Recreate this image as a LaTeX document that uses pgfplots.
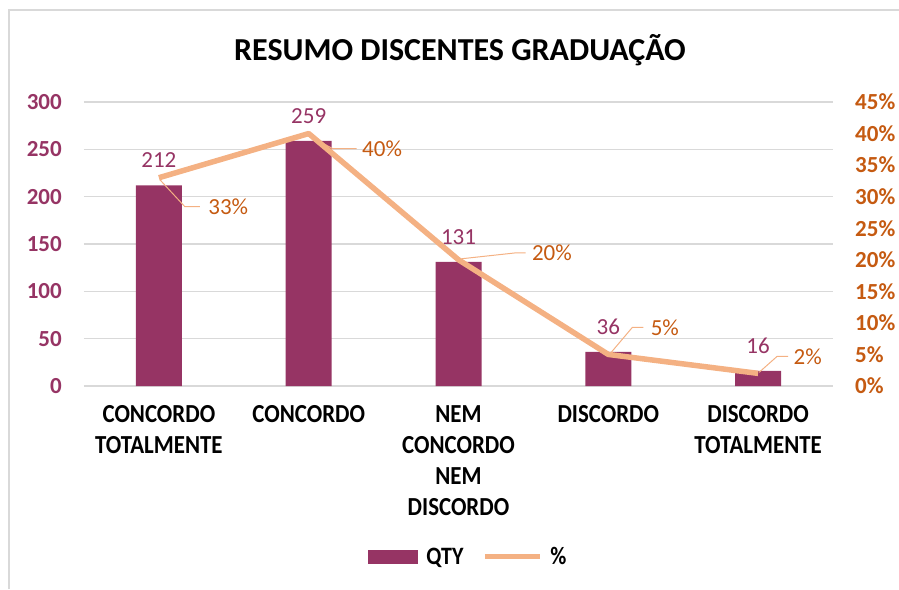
\documentclass[border=0pt]{standalone}
\usepackage{pgfplots}
\pgfplotsset{compat=1.18}
\usepackage{fontspec}
\setmainfont{Carlito}
\newfontfamily\condfont[FakeStretch=0.88]{Carlito}
\definecolor{barc}{HTML}{963464}
\definecolor{linec}{HTML}{F4B183}
\definecolor{orlab}{HTML}{C55A11}
\definecolor{gridc}{HTML}{D9D9D9}
\newcommand{\tickfont}{\fontsize{23}{28}\selectfont\bfseries}
\newcommand{\lblfont}{\fontsize{23}{28}\selectfont}
\newcommand{\catfont}{\condfont\fontsize{26}{31}\selectfont\bfseries}
\newcommand{\legfont}{\condfont\fontsize{25}{30}\selectfont\bfseries}
\begin{document}
\begin{tikzpicture}[x=1pt,y=1pt]
\path[use as bounding box] (0,0) rectangle (899,589);
\draw[gridc, line width=1.5pt] (9,0) -- (9,579) -- (899,579);
\node[font=\fontsize{32}{37}\selectfont\bfseries] at (460,539) {RESUMO DISCENTES GRADUAÇÃO};
\begin{axis}[
  at={(84pt,203pt)}, anchor=south west, scale only axis,
  width=749pt, height=284pt,
  xmin=-0.5, xmax=4.5, ymin=0, ymax=300,
  xtick={0,1,2,3,4},
  xticklabels={{CONCORDO\\TOTALMENTE},{CONCORDO},{NEM\\CONCORDO\\NEM\\DISCORDO},{DISCORDO},{DISCORDO\\TOTALMENTE}},
  ytick={0,50,...,300},
  ymajorgrids, grid style={gridc, line width=1.2pt},
  axis line style={draw=none}, major tick length=0pt,
  /pgf/number format/assume math mode=true,
  yticklabel style={font=\tickfont, text=barc, inner sep=0pt, xshift=-22pt},
  xticklabel style={font=\catfont, align=center, inner sep=0pt, anchor=north, yshift=-19pt},
  legend style={at={(0.512,-0.602)}, anchor=center, legend columns=2, draw=none, fill=none,
    font=\legfont, inner sep=0pt,
    nodes={inner sep=0pt},
    /tikz/every odd column/.append style={column sep=8pt},
    /tikz/every even column/.append style={column sep=19pt}},
]
\addplot[ybar, bar width=46pt, fill=barc, draw=none,
  nodes near coords,
  every node near coord/.append style={font=\lblfont, text=barc, anchor=center, yshift=25pt},
  legend image code/.code={\fill[barc] (0pt,-7pt) rectangle (50pt,7pt);}]
  coordinates {(0,212) (1,259) (2,131) (3,36) (4,16)};
\addlegendentry{QTY}
\addlegendimage{legend image code/.code={\draw[linec, line width=5pt] (0pt,0pt) -- (55pt,0pt);}}
\addlegendentry{\%}
\end{axis}
\begin{axis}[
  at={(84pt,203pt)}, anchor=south west, scale only axis,
  width=749pt, height=284pt,
  xmin=-0.5, xmax=4.5, ymin=0, ymax=45,
  axis y line*=right, axis x line=none,
  axis line style={draw=none}, major tick length=0pt,
  ytick={0,5,...,45},
  yticklabel={\pgfmathprintnumber{\tick}\%},
  /pgf/number format/assume math mode=true,
  yticklabel style={font=\tickfont, text=orlab, inner sep=0pt, xshift=22pt},
]
\addplot[linec, line width=5.5pt, line join=round, mark=none]
  coordinates {(0,33) (1,40) (2,20) (3,5) (4,2)};
\begin{scope}[every node/.style={font=\lblfont, text=orlab, inner sep=0pt, anchor=west}]
\draw[linec, line width=1pt] (axis cs:0,33) ++(1pt,-2pt) -- ++(25pt,-27pt) -- ++(15pt,0pt) ++(8pt,0pt) node {33\%};
\draw[linec, line width=1pt] (axis cs:1,40) ++(3pt,-4pt) -- ++(21pt,-11pt) -- ++(24pt,0pt) ++(5pt,0pt) node {40\%};
\draw[linec, line width=1pt] (axis cs:2,20) ++(3pt,1pt) -- ++(55pt,6pt) -- ++(9pt,0pt) ++(6pt,0pt) node {20\%};
\draw[linec, line width=1pt] (axis cs:3,5) ++(2pt,1pt) -- ++(22pt,26pt) -- ++(11pt,0pt) ++(7pt,0pt) node {5\%};
\draw[linec, line width=1pt] (axis cs:4,2) ++(1pt,1pt) -- ++(18pt,16pt) -- ++(11pt,0pt) ++(5pt,0pt) node {2\%};
\end{scope}
\end{axis}
\end{tikzpicture}
\end{document}
